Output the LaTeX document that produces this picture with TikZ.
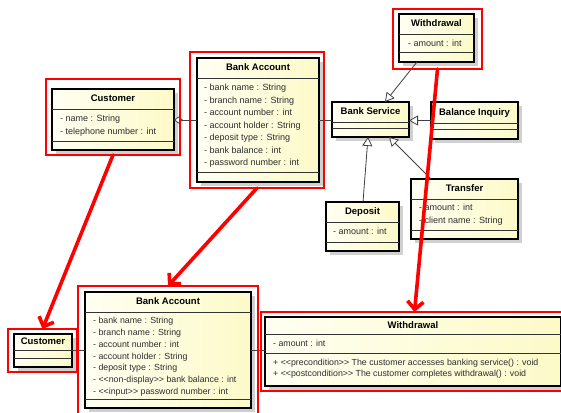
\documentclass[tikz,border=0pt]{standalone}
\usepackage{fontspec}
\setmainfont{Liberation Sans}
\usetikzlibrary{arrows.meta,calc}
\definecolor{yA}{RGB}{255,255,242}
\definecolor{yB}{RGB}{252,250,200}
\definecolor{shadowc}{RGB}{208,208,208}
\definecolor{hired}{RGB}{255,0,0}
\definecolor{txt}{RGB}{45,45,45}
\tikzset{
 classbox/.style={draw=black, line width=1.5pt, left color=yA, right color=yB, inner sep=0pt, outer sep=0pt, anchor=north west},
 divider/.style={line width=0.9pt, draw=black!80},
 ctitle/.style={font=\fontsize{9.5}{11}\selectfont\bfseries, inner sep=0pt, text=black, text height=6.8pt, text depth=1.8pt},
 attr/.style={font=\fontsize{9}{11}\selectfont, inner sep=0pt, anchor=west, text=txt, text height=6.6pt, text depth=1.9pt},
 attrsm/.style={font=\fontsize{8.8}{10}\selectfont, inner sep=0pt, anchor=west, text=txt, text height=6.4pt, text depth=1.8pt},
 redbox/.style={draw=hired, line width=2.6pt, inner sep=0pt, outer sep=0pt, anchor=north west},
 redarrow/.style={draw=hired, line width=3.6pt, line cap=round, -{Straight Barb[length=8pt,width=16pt]}},
 assoc/.style={draw=black!75, line width=0.8pt},
 gen/.style={draw=black!75, line width=0.8pt, -{Triangle[open,length=9pt,width=10pt,fill=white]}},
}
\newcommand{\umlcls}[8]{%
 \fill[shadowc] ({#2+4},{#3+4}) rectangle ({#4+4},{#5+4});
 \node[classbox, minimum width={(#4-#2)*1pt}, minimum height={(#5-#3)*1pt}] (#1) at (#2,#3) {};
 \draw[divider] (#2,#6) -- (#4,#6);
 \draw[divider] (#2,#7) -- (#4,#7);
 \node[ctitle] (#1-t) at ({(#2+#4)/2},{(#3+#6)/2}) {#8};
}
\newcommand{\umlattrs}[6]{%
 \foreach \txt [count=\i] in {#6} {
  \node[#5] (#1-a\i) at (#2,{#3+(\i-1)*#4}) {\txt};
 }
}
\newcommand{\hlbox}[5]{%
 \node[redbox, minimum width={(#4-#2)*1pt}, minimum height={(#5-#3)*1pt}] (#1) at (#2,#3) {};
}
\begin{document}
\begin{tikzpicture}[x=1pt,y=-1pt]
\useasboundingbox (0,0) rectangle (561,412);
\clip (0,0) rectangle (561,412);
\fill[white] (0,0) rectangle (561,412);

% top classes
\umlcls{cu}{52}{89}{174}{150}{109}{141}{Customer}
\umlattrs{cu}{60}{119.3}{12.7}{attr}{- name : String, - telephone number : int}

\umlcls{ba}{197}{58}{319}{182}{78}{172}{Bank Account}
\umlattrs{ba}{204}{88.3}{12.55}{attr}{- bank name : String, - branch name : String, - account number : int, - account holder : String, - deposit type : String, - bank balance : int, - password number : int}

\umlcls{wd}{399}{14}{474}{62}{34}{52}{Withdrawal}
\umlattrs{wd}{408}{44}{12}{attr}{- amount : int}

\umlcls{bs}{332}{102}{409}{137}{122}{128}{Bank Service}
\umlcls{bi}{431}{102}{518}{139}{123}{129}{Balance Inquiry}

\umlcls{tr}{411}{179}{518}{239}{199}{230}{Transfer}
\umlattrs{tr}{419}{208.5}{12.8}{attr}{- amount : int, - client name : String}

\umlcls{dp}{326}{202}{399}{251}{222}{242}{Deposit}
\umlattrs{dp}{333}{232.3}{12}{attr}{- amount : int}

% bottom classes
\umlcls{cub}{14}{334}{72}{367}{350}{358}{Customer}

\umlcls{bab}{85}{292}{251}{408}{312}{399}{Bank Account}
\umlattrs{bab}{93}{321.3}{11.8}{attrsm}{- bank name : String, - branch name : String, - account number : int, - account holder : String, - deposit type : String, - {<}{<}non-display{>}{>} bank balance : int, - {<}{<}input{>}{>} password number : int}

\umlcls{wdb}{265}{317}{561}{386}{334}{353}{Withdrawal}
\umlattrs{wdb}{273}{344}{12}{attrsm}{- amount : int}
\umlattrs{wdb-op}{273}{363}{11.6}{attrsm}{+ {<}{<}precondition{>}{>} The customer accesses banking service() : void, + {<}{<}postcondition{>}{>} The customer completes withdrawal() : void}

% connectors
\draw[assoc, -{Diamond[open,length=9pt,width=7pt,fill=white]}] (ba.west) -- (cu.east |- ba.west);
\draw[assoc] (ba.east) -- (bs.west |- ba.east);
\draw[gen] ($(wd.south)+(-19.5,0)$) -- ($(bs.north)+(14.5,0)$);
\draw[gen] (bi.west) -- (bs.east |- bi.west);
\draw[gen] ($(dp.north)+(0.5,0)$) -- ($(bs.south)+(-2.5,0)$);
\draw[gen] ($(tr.north)+(-33.5,0)$) -- ($(bs.south)+(18.5,0)$);
\draw[assoc] (cub.east) -- (bab.west |- cub.east);
\draw[assoc] (bab.east) -- (wdb.west |- bab.east);

% red highlights
\hlbox{r1}{46}{79}{180}{155}
\hlbox{r2}{190}{52}{324}{188}
\hlbox{r3}{393}{9}{482}{69}
\hlbox{r4}{8}{329}{77}{372}
\hlbox{r5}{78}{286}{258}{425}
\hlbox{r6}{261}{312}{568}{391}

\draw[redarrow] (r1.south) -- (r4.north);
\draw[redarrow] (r2.south) -- (r5.north);
\draw[redarrow] (r3.south) -- (r6.north);
\end{tikzpicture}
\end{document}
